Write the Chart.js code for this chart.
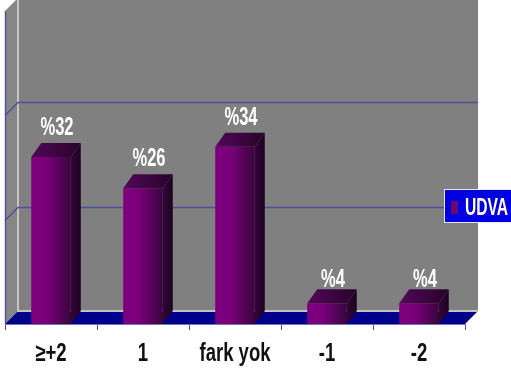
<!DOCTYPE html>
<html>
<head>
<meta charset="utf-8">
<style>
    html, body { margin: 0; background: #fff; }
    canvas { display: block; }
</style>
<script src="https://cdn.jsdelivr.net/npm/chart.js@4"></script>
</head>
<body>
<canvas id="udvaChart" width="511" height="377"></canvas>
<script>
    var categories = ['≥+2', '1', 'fark yok', '-1', '-2'];
    var udvaValues = [32, 26, 34, 4, 4];
    var seriesName = 'UDVA';
    var gridTicks = [0, 20, 40, 60];

    var wallDepth = 13;
    var barDepthX = 10;
    var barDepthY = 14;

    function polygon(ctx, points, fill) {
        ctx.beginPath();
        ctx.moveTo(points[0][0], points[0][1]);
        for (var i = 1; i < points.length; i++) {
            ctx.lineTo(points[i][0], points[i][1]);
        }
        ctx.closePath();
        ctx.fillStyle = fill;
        ctx.fill();
    }

    // Tall condensed text: no narrow face is available, so squeeze a bold one
    function squeezedText(ctx, text, x, y, size, squeeze, color, align) {
        ctx.save();
        ctx.fillStyle = color;
        ctx.font = 'bold ' + size + 'px "Liberation Sans", sans-serif';
        ctx.textAlign = align;
        ctx.textBaseline = 'alphabetic';
        ctx.translate(x, y);
        ctx.scale(squeeze, 1);
        ctx.fillText(text, 0, 0);
        ctx.restore();
    }

    // Back wall, side wall, floor and the grid lines that wrap round them
    var roomPlugin = {
        id: 'room',
        beforeDatasetsDraw: function (chart) {
            var ctx = chart.ctx, a = chart.chartArea, y = chart.scales.y;
            var d = wallDepth;
            ctx.save();
            polygon(ctx, [[a.left + d, a.top - d], [a.right + d, a.top - d], [a.right + d, a.bottom - d], [a.left + d, a.bottom - d]], '#808080');
            polygon(ctx, [[a.left, a.top], [a.left + d, a.top - d], [a.left + d, a.bottom - d], [a.left, a.bottom]], '#868686');
            polygon(ctx, [[a.left, a.bottom], [a.left + d, a.bottom - d], [a.right + d, a.bottom - d], [a.right, a.bottom]], '#00008b');

            ctx.strokeStyle = '#c4c4c4';
            ctx.lineWidth = 2;
            ctx.beginPath();
            ctx.moveTo(a.left + d, a.top - d);
            ctx.lineTo(a.left + d, a.bottom - d);
            ctx.lineTo(a.right + d, a.bottom - d);
            ctx.stroke();

            ctx.strokeStyle = '#4e4e9c';
            ctx.lineWidth = 1.4;
            gridTicks.slice(1, -1).forEach(function (v) {
                var py = Math.round(y.getPixelForValue(v)) + 0.5;
                ctx.beginPath();
                ctx.moveTo(a.left, py);
                ctx.lineTo(a.left + d, py - d);
                ctx.lineTo(a.right + d, py - d);
                ctx.stroke();
            });

            ctx.beginPath();
            ctx.moveTo(a.left + 0.5, a.top);
            ctx.lineTo(a.left + 0.5, a.bottom);
            ctx.stroke();
            ctx.restore();
        },
        afterDatasetsDraw: function (chart) {
            var ctx = chart.ctx, x = chart.scales.x;
            var bars = chart.getDatasetMeta(0).data;
            ctx.save();
            bars.forEach(function (bar, i) {
                var half = bar.width / 2;
                var left = bar.x - half, right = bar.x + half;

                // depth faces of the bar
                var side = ctx.createLinearGradient(right, 0, right + barDepthX, 0);
                side.addColorStop(0, '#33063a');
                side.addColorStop(1, '#1c0220');
                polygon(ctx, [[right, bar.y], [right + barDepthX, bar.y - barDepthY], [right + barDepthX, bar.base - barDepthY + 1], [right, bar.base]], side);

                var top = ctx.createLinearGradient(left, 0, right + barDepthX, 0);
                top.addColorStop(0, '#520858');
                top.addColorStop(1, '#270329');
                polygon(ctx, [[left, bar.y], [left + barDepthX, bar.y - barDepthY], [right + barDepthX, bar.y - barDepthY], [right, bar.y]], top);

                // value label above the bar
                var gap = udvaValues[i] < 10 ? 2 : 8;
                squeezedText(ctx, '%' + udvaValues[i], bar.x + 6, bar.y - barDepthY - gap, 25, 0.66, '#ffffff', 'center');

                // category label under the axis
                squeezedText(ctx, categories[i], x.getPixelForValue(i), 361, 25, 0.74, '#111111', 'center');
            });

            // legend box sitting over the right edge of the wall
            ctx.fillStyle = '#0000e0';
            ctx.fillRect(444, 189, 67, 34);
            ctx.strokeStyle = '#e8e8f4';
            ctx.lineWidth = 1;
            ctx.strokeRect(444.5, 189.5, 68, 33);
            ctx.fillStyle = '#6a0a6e';
            ctx.fillRect(451, 201, 7, 13);
            squeezedText(ctx, seriesName, 465, 215, 23, 0.68, '#ffffff', 'left');
            ctx.restore();
        }
    };

    new Chart(document.getElementById('udvaChart').getContext('2d'), {
        type: 'bar',
        plugins: [roomPlugin],
        data: {
            labels: categories,
            datasets: [{
                label: seriesName,
                data: udvaValues,
                barPercentage: 0.43,
                categoryPercentage: 1,
                backgroundColor: function (context) {
                    var chart = context.chart;
                    if (!chart.chartArea) {
                        return '#800080';
                    }
                    var cx = chart.scales.x.getPixelForValue(context.dataIndex);
                    var g = chart.ctx.createLinearGradient(cx - 20, 0, cx + 20, 0);
                    g.addColorStop(0, '#7d007f');
                    g.addColorStop(0.4, '#78007a');
                    g.addColorStop(1, '#38063c');
                    return g;
                }
            }]
        },
        options: {
            responsive: false,
            animation: false,
            layout: { padding: { left: 5, top: 11, right: 46, bottom: 0 } },
            plugins: {
                legend: { display: false },
                tooltip: { enabled: false }
            },
            scales: {
                x: {
                    afterFit: function (scale) { scale.height = 53; },
                    border: { color: '#6f76b8', width: 1 },
                    grid: { drawOnChartArea: false, color: '#555566', tickLength: 6 },
                    ticks: { display: false }
                },
                y: {
                    min: gridTicks[0],
                    max: gridTicks[gridTicks.length - 1],
                    afterFit: function (scale) { scale.width = 0; },
                    border: { display: false },
                    grid: { display: false },
                    ticks: { display: false, stepSize: 20 }
                }
            }
        }
    });
</script>
</body>
</html>
